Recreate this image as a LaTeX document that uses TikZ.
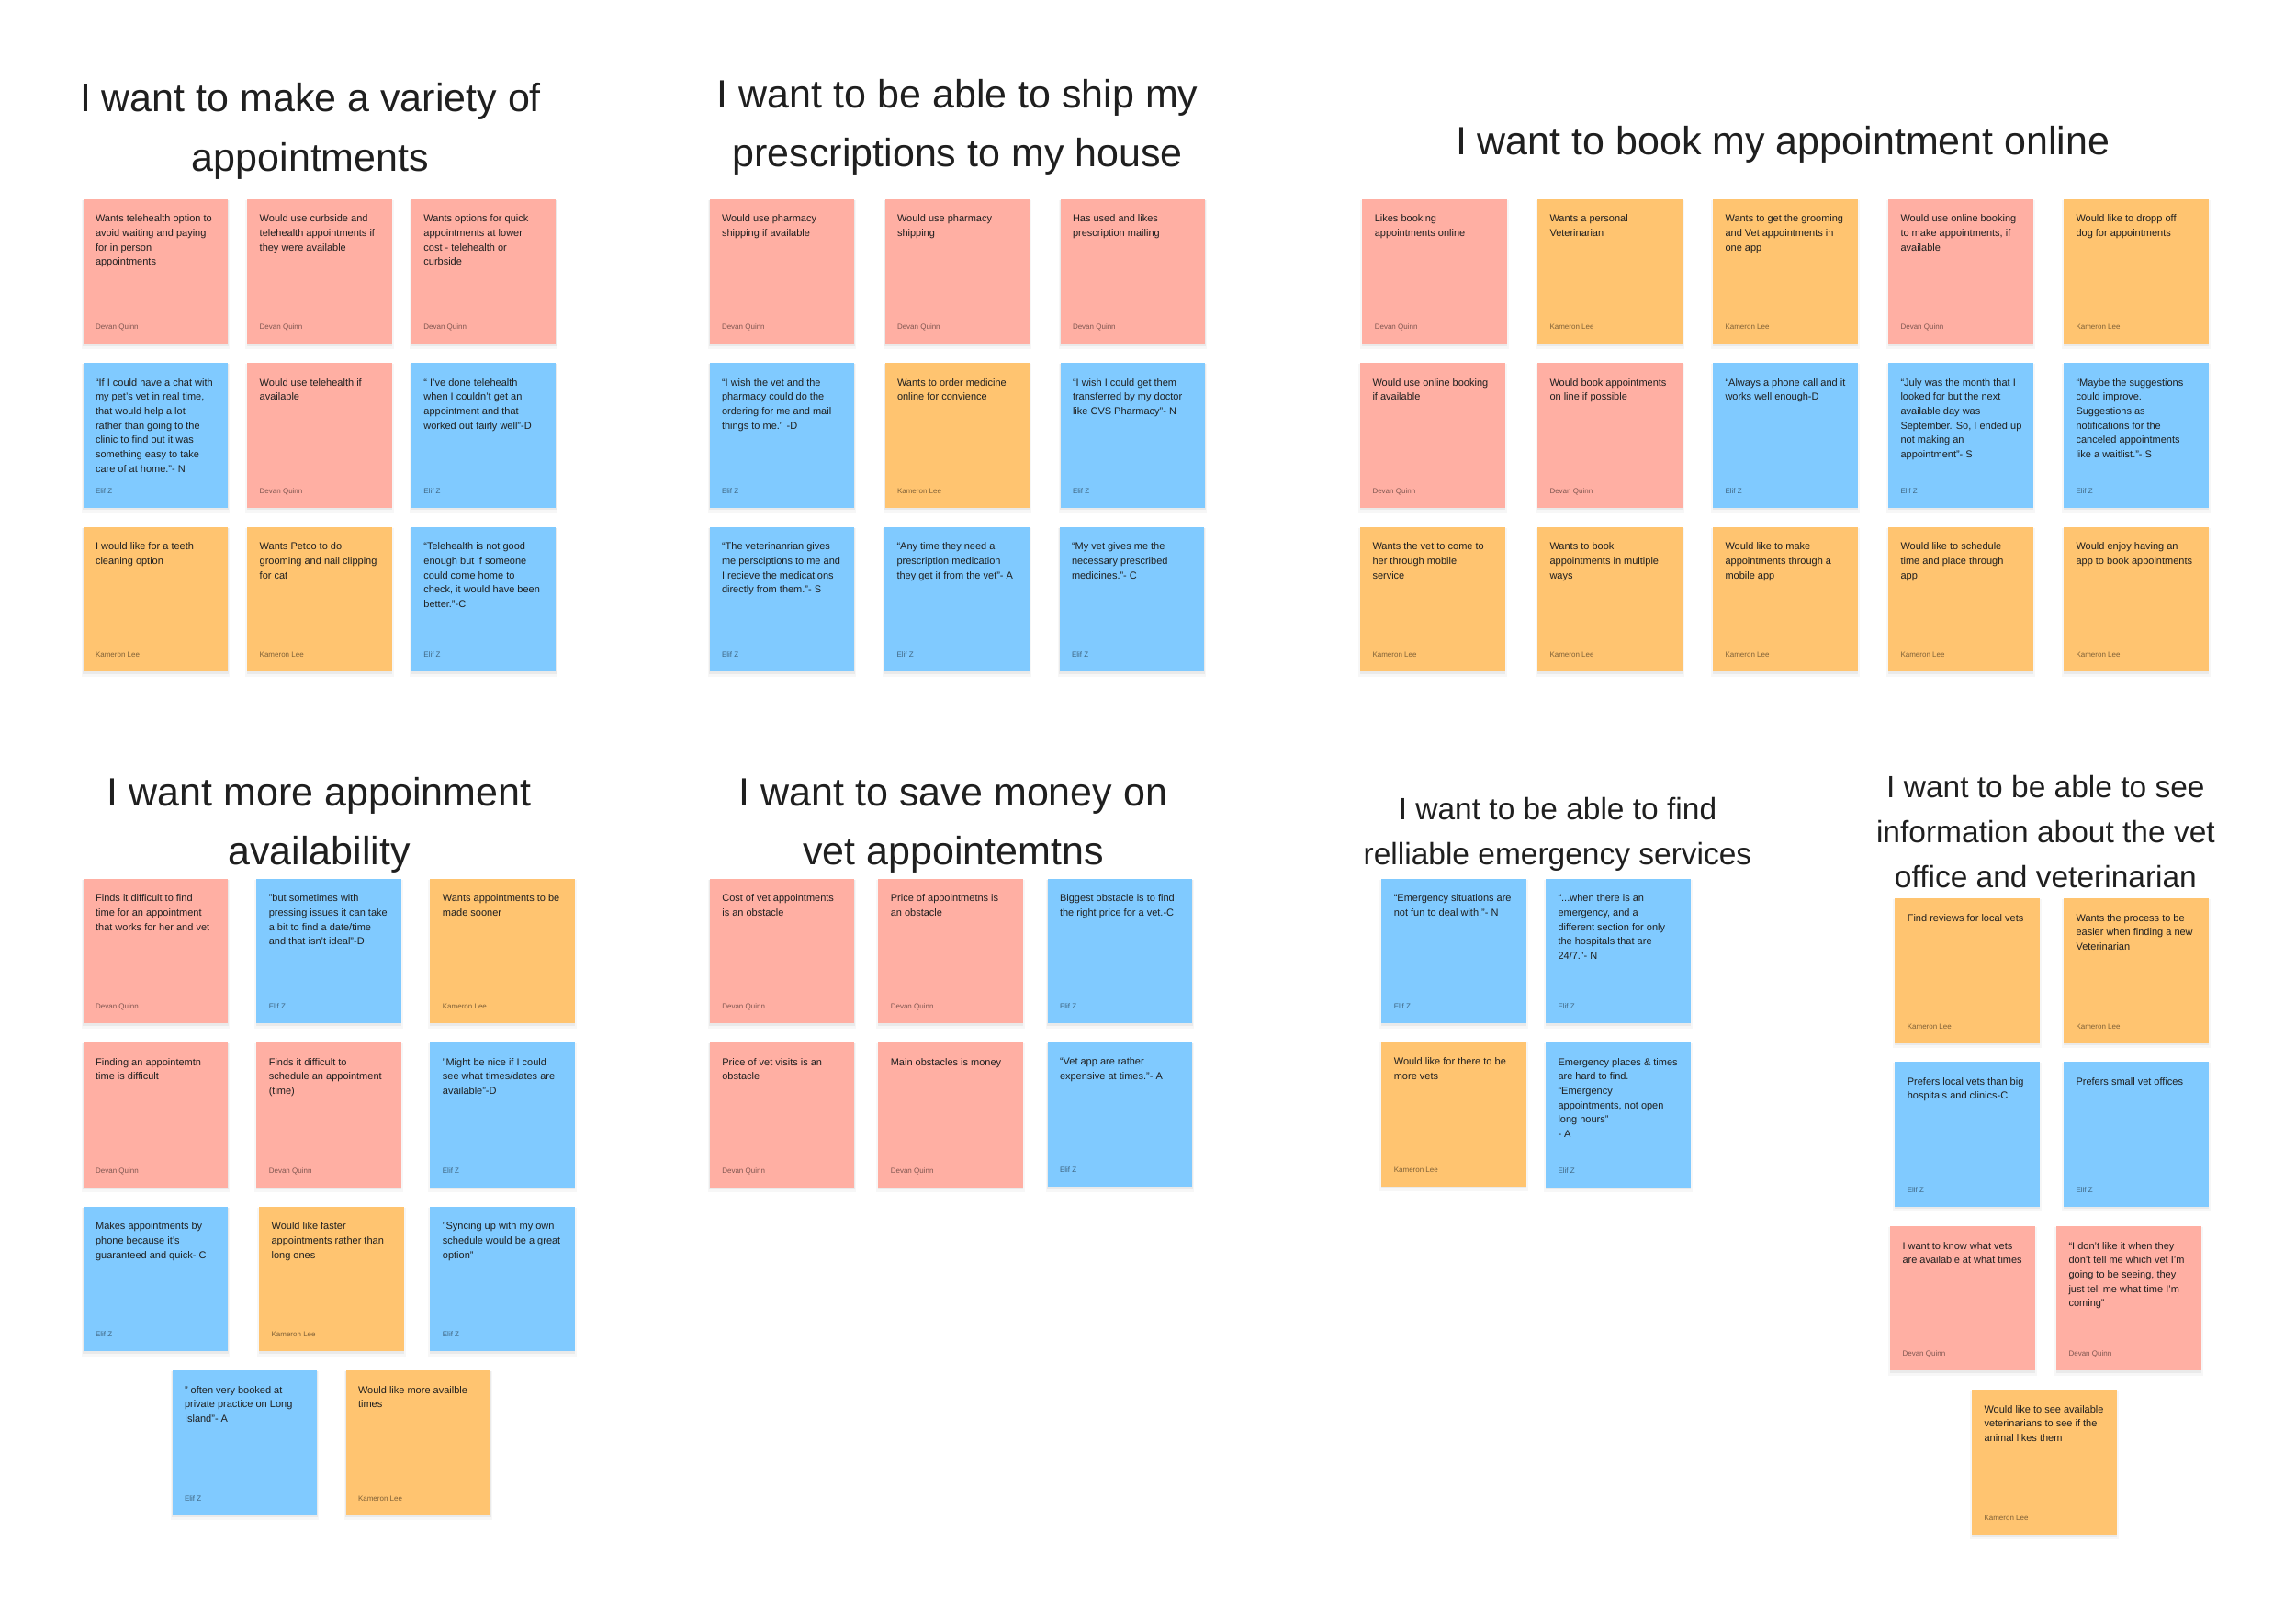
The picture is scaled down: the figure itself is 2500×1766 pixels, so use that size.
\documentclass[tikz,border=0pt]{standalone}
\usepackage{fontspec}
\setmainfont{Liberation Sans}
\definecolor{spink}{HTML}{FFAFA3}
\definecolor{sorange}{HTML}{FFC470}
\definecolor{sblue}{HTML}{80CAFF}
\tikzset{
  stickybox/.style={anchor=north west, minimum width=157.5pt, minimum height=157.5pt, inner sep=0pt, outer sep=0pt},
  notetext/.style={anchor=base west, inner sep=0pt, text=black!88, font=\fontsize{11}{15.67}\selectfont},
  authortext/.style={anchor=base west, inner sep=0pt, text=black, text opacity=0.5, font=\fontsize{8}{10}\selectfont},
  bigtitle/.style={anchor=base, inner sep=0pt, text=black!88, font=\fontsize{43}{52}\selectfont},
  midtitle/.style={anchor=base, inner sep=0pt, text=black!88, font=\fontsize{33.5}{40}\selectfont},
}
\newcommand\stk[6]{%
  \fill[black,opacity=0.03] (#2-2,#3+1) rectangle (#2+159.5,#3+163);
  \fill[black,opacity=0.05] (#2-0.5,#3+1) rectangle (#2+158,#3+160);
  \node[stickybox, fill=#4] (#1) at (#2,#3) {};
  \node[notetext] (#1t) at ([xshift=13.3pt,yshift=-25.3pt]#1.north west) {\parbox[t]{220pt}{\raggedright #5}};
  \node[authortext] (#1a) at ([xshift=13.3pt,yshift=-142pt]#1.north west) {#6};
}
\begin{document}
\begin{tikzpicture}[x=1pt,y=-1pt]
\path[use as bounding box, fill=white] (0,0) rectangle (2500,1766);

% ---------- Titles ----------
\node[bigtitle] (t1a) at (338,122) {I want to make a variety of};
\node[bigtitle] (t1b) at (338,186) {appointments};
\node[bigtitle] (t2a) at (1042.7,117.2) {I want to be able to ship my};
\node[bigtitle] (t2b) at (1042.7,181.2) {prescriptions to my house};
\node[bigtitle] (t3a) at (1941.2,168.2) {I want to book my appointment online};
\node[bigtitle] (t4a) at (347.6,877.7) {I want more appoinment};
\node[bigtitle] (t4b) at (347.6,941.7) {availability};
\node[bigtitle] (t5a) at (1038,877.7) {I want to save money on};
\node[bigtitle] (t5b) at (1038,941.7) {vet appointemtns};
\node[midtitle] (t6a) at (1696,892) {I want to be able to find};
\node[midtitle] (t6b) at (1696,941.3) {relliable emergency services};
\node[midtitle] (t7a) at (2227.4,868) {I want to be able to see};
\node[midtitle] (t7b) at (2227.4,917.4) {information about the vet};
\node[midtitle] (t7c) at (2227.4,966.8) {office and veterinarian};

% ---------- Group 1 ----------
\stk{n11}{90.5}{216.5}{spink}{Wants telehealth option to\\avoid waiting and paying\\for in person\\appointments}{Devan Quinn}
\stk{n12}{269.2}{216.5}{spink}{Would use curbside and\\telehealth appointments if\\they were available}{Devan Quinn}
\stk{n13}{447.9}{216.5}{spink}{Wants options for quick\\appointments at lower\\cost - telehealth or\\curbside}{Devan Quinn}
\stk{n21}{90.5}{395}{sblue}{“If I could have a chat with\\my pet’s vet in real time,\\that would help a lot\\rather than going to the\\clinic to find out it was\\something easy to take\\care of at home.”- N}{Elif Z}
\stk{n22}{269.2}{395}{spink}{Would use telehealth if\\available}{Devan Quinn}
\stk{n23}{447.9}{395}{sblue}{“ I’ve done telehealth\\when I couldn’t get an\\appointment and that\\worked out fairly well”-D}{Elif Z}
\stk{n31}{90.5}{573.5}{sorange}{I would like for a teeth\\cleaning option}{Kameron Lee}
\stk{n32}{269.2}{573.5}{sorange}{Wants Petco to do\\grooming and nail clipping\\for cat}{Kameron Lee}
\stk{n33}{447.9}{573.5}{sblue}{“Telehealth is not good\\enough but if someone\\could come home to\\check, it would have been\\better.”-C}{Elif Z}

% ---------- Group 2 ----------
\stk{p11}{772.5}{216.5}{spink}{Would use pharmacy\\shipping if available}{Devan Quinn}
\stk{p12}{963.5}{216.5}{spink}{Would use pharmacy\\shipping}{Devan Quinn}
\stk{p13}{1154.5}{216.5}{spink}{Has used and likes\\prescription mailing}{Devan Quinn}
\stk{p21}{772.5}{395}{sblue}{“I wish the vet and the\\pharmacy could do the\\ordering for me and mail\\things to me.” -D}{Elif Z}
\stk{p22}{963.5}{395}{sorange}{Wants to order medicine\\online for convience}{Kameron Lee}
\stk{p23}{1154.5}{395}{sblue}{“I wish I could get them\\transferred by my doctor\\like CVS Pharmacy”- N}{Elif Z}
\stk{p31}{772.5}{573.5}{sblue}{“The veterinanrian gives\\me persciptions to me and\\I recieve the medications\\directly from them.”- S}{Elif Z}
\stk{p32}{963}{573.5}{sblue}{“Any time they need a\\prescription medication\\they get it from the vet”- A}{Elif Z}
\stk{p33}{1153.5}{573.5}{sblue}{“My vet gives me the\\necessary prescribed\\medicines.”- C}{Elif Z}

% ---------- Group 3 ----------
\stk{b11}{1483.3}{216.5}{spink}{Likes booking\\appointments online}{Devan Quinn}
\stk{b12}{1674}{216.5}{sorange}{Wants a personal\\Veterinarian}{Kameron Lee}
\stk{b13}{1865}{216.5}{sorange}{Wants to get the grooming\\and Vet appointments in\\one app}{Kameron Lee}
\stk{b14}{2056}{216.5}{spink}{Would use online booking\\to make appointments, if\\available}{Devan Quinn}
\stk{b15}{2247}{216.5}{sorange}{Would like to dropp off\\dog for appointments}{Kameron Lee}
\stk{b21}{1481}{395}{spink}{Would use online booking\\if available}{Devan Quinn}
\stk{b22}{1674}{395}{spink}{Would book appointments\\on line if possible}{Devan Quinn}
\stk{b23}{1865}{395}{sblue}{“Always a phone call and it\\works well enough-D}{Elif Z}
\stk{b24}{2056}{395}{sblue}{“July was the month that I\\looked for but the next\\available day was\\September. So, I ended up\\not making an\\appointment”- S}{Elif Z}
\stk{b25}{2247}{395}{sblue}{“Maybe the suggestions\\could improve.\\Suggestions as\\notifications for the\\canceled appointments\\like a waitlist.”- S}{Elif Z}
\stk{b31}{1481}{573.5}{sorange}{Wants the vet to come to\\her through mobile\\service}{Kameron Lee}
\stk{b32}{1674}{573.5}{sorange}{Wants to book\\appointments in multiple\\ways}{Kameron Lee}
\stk{b33}{1865}{573.5}{sorange}{Would like to make\\appointments through a\\mobile app}{Kameron Lee}
\stk{b34}{2056}{573.5}{sorange}{Would like to schedule\\time and place through\\app}{Kameron Lee}
\stk{b35}{2247}{573.5}{sorange}{Would enjoy having an\\app to book appointments}{Kameron Lee}

% ---------- Group 4 ----------
\stk{a11}{90.6}{956.5}{spink}{Finds it difficult to find\\time for an appointment\\that works for her and vet}{Devan Quinn}
\stk{a12}{279.3}{956.5}{sblue}{"but sometimes with\\pressing issues it can take\\a bit to find a date/time\\and that isn’t ideal"-D}{Elif Z}
\stk{a13}{468.4}{956.5}{sorange}{Wants appointments to be\\made sooner}{Kameron Lee}
\stk{a21}{90.6}{1135}{spink}{Finding an appointemtn\\time is difficult}{Devan Quinn}
\stk{a22}{279.3}{1135}{spink}{Finds it difficult to\\schedule an appointment\\(time)}{Devan Quinn}
\stk{a23}{468.4}{1135}{sblue}{"Might be nice if I could\\see what times/dates are\\available"-D}{Elif Z}
\stk{a31}{90.6}{1313.5}{sblue}{Makes appointments by\\phone because it’s\\guaranteed and quick- C}{Elif Z}
\stk{a32}{282.1}{1313.5}{sorange}{Would like faster\\appointments rather than\\long ones}{Kameron Lee}
\stk{a33}{468.4}{1313.5}{sblue}{"Syncing up with my own\\schedule would be a great\\option"}{Elif Z}
\stk{a41}{187.5}{1492}{sblue}{” often very booked at\\private practice on Long\\Island”- A}{Elif Z}
\stk{a42}{376.5}{1492}{sorange}{Would like more availble\\times}{Kameron Lee}

% ---------- Group 5 ----------
\stk{s11}{772.8}{956.5}{spink}{Cost of vet appointments\\is an obstacle}{Devan Quinn}
\stk{s12}{956.3}{956.5}{spink}{Price of appointmetns is\\an obstacle}{Devan Quinn}
\stk{s13}{1140.5}{956.5}{sblue}{Biggest obstacle is to find\\the right price for a vet.-C}{Elif Z}
\stk{s21}{772.8}{1135}{spink}{Price of vet visits is an\\obstacle}{Devan Quinn}
\stk{s22}{956.3}{1135}{spink}{Main obstacles is money}{Devan Quinn}
\stk{s23}{1140.5}{1134.5}{sblue}{“Vet app are rather\\expensive at times.”- A}{Elif Z}

% ---------- Group 6 ----------
\stk{e11}{1504.3}{956.5}{sblue}{“Emergency situations are\\not fun to deal with.”- N}{Elif Z}
\stk{e12}{1683}{956.5}{sblue}{“...when there is an\\emergency, and a\\different section for only\\the hospitals that are\\24/7.”- N}{Elif Z}
\stk{e21}{1504.3}{1134.3}{sorange}{Would like for there to be\\more vets}{Kameron Lee}
\stk{e22}{1683}{1135}{sblue}{Emergency places \& times\\are hard to find.\\“Emergency\\appointments, not open\\long hours”\\- A}{Elif Z}

% ---------- Group 7 ----------
\stk{i11}{2063.3}{978}{sorange}{Find reviews for local vets}{Kameron Lee}
\stk{i12}{2247}{978}{sorange}{Wants the process to be\\easier when finding a new\\Veterinarian}{Kameron Lee}
\stk{i21}{2063.3}{1156}{sblue}{Prefers local vets than big\\hospitals and clinics-C}{Elif Z}
\stk{i22}{2247}{1156}{sblue}{Prefers small vet offices}{Elif Z}
\stk{i31}{2058}{1334.7}{spink}{I want to know what vets\\are available at what times}{Devan Quinn}
\stk{i32}{2239}{1334.7}{spink}{“I don't like it when they\\don't tell me which vet I'm\\going to be seeing, they\\just tell me what time I'm\\coming”}{Devan Quinn}
\stk{i41}{2147}{1513}{sorange}{Would like to see available\\veterinarians to see if the\\animal likes them}{Kameron Lee}
\end{tikzpicture}
\end{document}
